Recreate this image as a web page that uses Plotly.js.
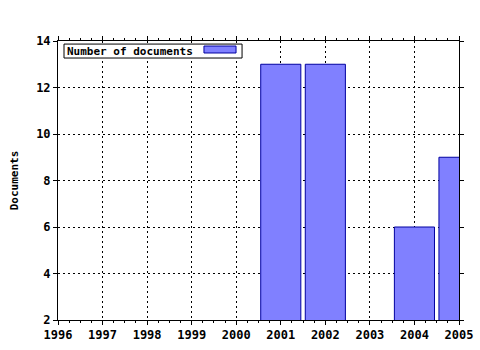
<!DOCTYPE html>
<html>
<head>
<meta charset="utf-8">
<script src="https://cdn.plot.ly/plotly-3.0.1.min.js"></script>
<style>html,body{margin:0;padding:0;background:#fff}#chart{width:480px;height:350px}</style>
</head>
<body>
<div id="chart"></div>
<script>
var years = [2001, 2002, 2004, 2005];
var documents = [13, 13, 6, 9];
var seriesName = "Number of documents";
var yTitle = "Documents";

var tickFont = {family: "DejaVu Sans Mono, monospace", size: 12, color: "#000", weight: "bold"};
var textFont = {family: "DejaVu Sans Mono, monospace", size: 11, color: "#000", weight: "bold"};
var fillColor = "#8080ff";
var edgeColor = "#0000a0";

var trace = {
  type: "bar",
  x: years,
  y: documents,
  name: seriesName,
  width: 0.9,
  marker: {color: fillColor, line: {color: edgeColor, width: 1}},
  showlegend: false
};

var layout = {
  width: 480, height: 350,
  margin: {l: 58, r: 21, t: 41, b: 30},
  paper_bgcolor: "#fff", plot_bgcolor: "#fff",
  font: textFont,
  showlegend: false,
  xaxis: {
    range: [1996, 2005], dtick: 1, tick0: 1996,
    showgrid: true, gridcolor: "#000", gridwidth: 1, griddash: "2px,3px",
    showline: true, linecolor: "#000", linewidth: 1, mirror: "ticks",
    ticks: "outside", ticklen: 4, tickcolor: "#000",
    minor: {dtick: 0.25, ticks: "outside", ticklen: 2, tickcolor: "#000", showgrid: false},
    zeroline: false, tickfont: tickFont, fixedrange: true
  },
  yaxis: {
    range: [2, 14], dtick: 2,
    showgrid: true, gridcolor: "#000", gridwidth: 1, griddash: "2px,3px",
    showline: true, linecolor: "#000", linewidth: 1, mirror: "ticks",
    ticks: "outside", ticklen: 4, tickcolor: "#000",
    zeroline: false, tickfont: tickFont,
    title: {text: yTitle, font: textFont, standoff: 15}
  },
  annotations: [{
    xref: "paper", yref: "paper", x: 0.017, y: 0.964,
    xanchor: "left", yanchor: "middle",
    text: seriesName, showarrow: false, align: "left",
    font: textFont
  }],
  shapes: [
    {
      type: "rect", xref: "paper", yref: "paper", layer: "above",
      x0: 0.015, x1: 0.459, y0: 0.939, y1: 0.989,
      fillcolor: "#fff", line: {color: "#000", width: 1}
    },
    {
      type: "rect", xref: "paper", yref: "paper", layer: "above",
      x0: 0.364, x1: 0.444, y0: 0.957, y1: 0.982,
      fillcolor: fillColor, line: {color: edgeColor, width: 1}
    }
  ]
};

Plotly.newPlot("chart", [trace], layout, {staticPlot: true, displayModeBar: false});
</script>
</body>
</html>
